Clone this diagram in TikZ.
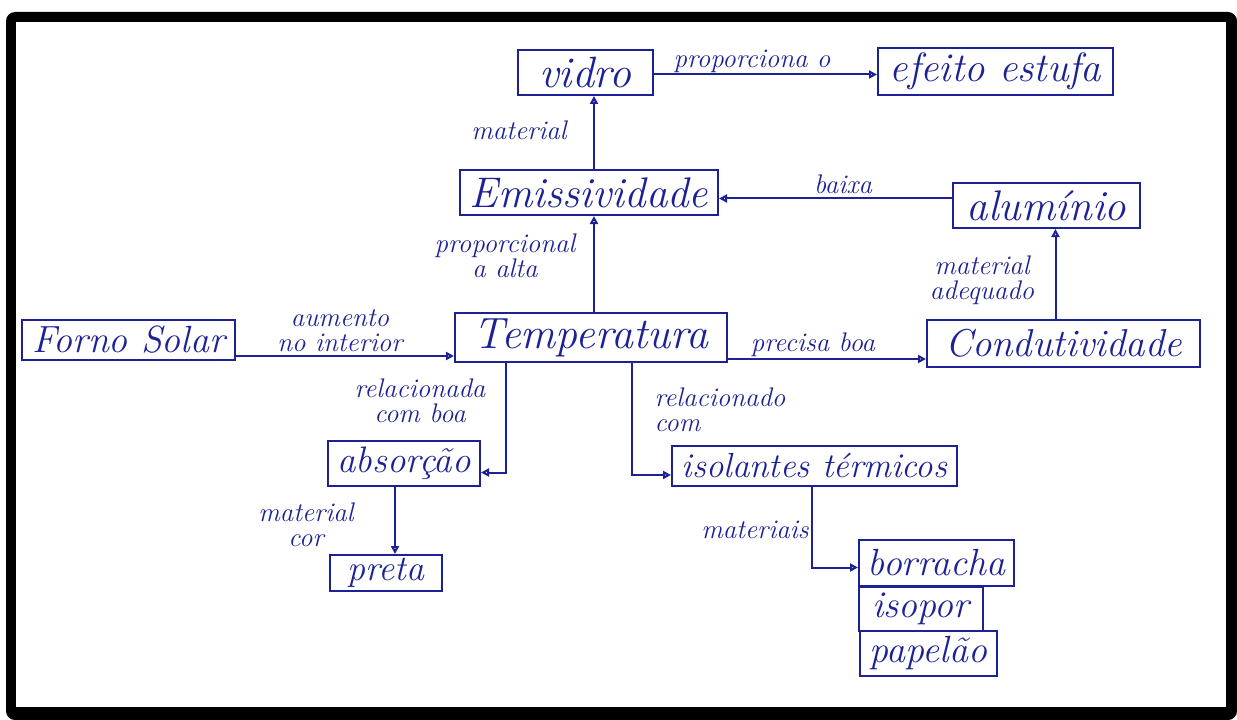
\documentclass[tikz,border=0pt]{standalone}
\usetikzlibrary{arrows.meta}
\definecolor{ink}{RGB}{28,34,150}
\begin{document}
\begin{tikzpicture}[x=1bp,y=-1bp,
  concept/.style={draw=ink, line width=2bp, text=ink, inner sep=0pt},
  box/.style 2 args={minimum width=#1, minimum height=#2},
  fs/.style={font=\itshape\fontsize{#1}{#1}\selectfont},
  lbl/.style={text=ink, font=\itshape\fontsize{27}{25}\selectfont, align=center, inner sep=0pt},
  link/.style={draw=ink, line width=2bp, -{Triangle[open,length=8bp,width=8bp]}}]

\useasboundingbox (0,0) rectangle (1237,720);
% black card frame
\fill[black, rounded corners=9bp] (6,12) rectangle (1237,720);
\fill[white] (16,22) rectangle (1226,707);

% concepts
\node[concept, box={135bp}{45bp}, fs=44] (vidro)  at (585.5,72.5) {vidro};
\node[concept, box={235bp}{47bp}, fs=41] (efeito) at (995.5,71.5) {efeito estufa};
\node[concept, box={258bp}{45bp}, fs=43] (emis)   at (589,192.5)  {Emissividade};
\node[concept, box={187bp}{45bp}, fs=43] (alum)   at (1046.5,205.5) {alumínio};
\node[concept, box={272bp}{49bp}, fs=44] (temp)   at (591,337.5)  {Temperatura};
\node[concept, box={213bp}{40bp}, fs=38] (forno)  at (128.5,340)  {Forno Solar};
\node[concept, box={273bp}{47bp}, fs=39] (cond)   at (1063.5,343.5) {Condutividade};
\node[concept, box={152bp}{45bp}, fs=37] (abs)    at (404,463.5)  {absorção};
\node[concept, box={112bp}{36bp}, fs=36] (preta)  at (386,573)    {preta};
\node[concept, box={285bp}{40bp}, fs=35] (iso)    at (814.5,466)  {isolantes térmicos};
\node[concept, box={155bp}{46bp}, fs=38] (borr)   at (936.5,562.5) {borracha};
\node[concept, box={124bp}{44bp}, fs=38] (isopor) at (921,608.5)  {isopor};
\node[concept, box={137bp}{45bp}, fs=38] (papel)  at (928.5,653.5) {papelão};

% link phrases
\node[lbl] (l1)  at (752,61)   {proporciona o};
\node[lbl] (l2)  at (519,130)  {material};
\node[lbl] (l3)  at (843,184)  {baixa};
\node[lbl] (l4)  at (505,256)  {proporcional\\a alta};
\node[lbl] (l5)  at (340,331)  {aumento\\no interior};
\node[lbl] (l6)  at (813,345)  {precisa boa};
\node[lbl] (l7)  at (982,280)  {material\\adequado};
\node[lbl] (l8)  at (420,401)  {relacionada\\com boa};
\node[lbl, align=left] (l9) at (720,410) {relacionado\\com};
\node[lbl] (l10) at (306,525)  {material\\cor};
\node[lbl] (l11) at (755,530)  {materiais};

% connectors
\coordinate (vOut) at ([yshift=-2bp]vidro.east);
\draw[link] (vOut) -- (vOut -| efeito.west);

\coordinate (eUp) at ([xshift=5bp]emis.north);
\draw[link] (eUp) -- (eUp |- vidro.south);

\coordinate (tUp) at ([xshift=3bp]temp.north);
\draw[link] (tUp) -- (tUp |- emis.south);

\coordinate (aOut) at ([yshift=7bp]alum.west);
\draw[link] (aOut) -- (aOut -| emis.east);

\coordinate (cUp) at ([xshift=-8bp]cond.north);
\draw[link] (cUp) -- (cUp |- alum.south);

\coordinate (fOut) at ([yshift=5bp]forno.south east);
\draw[link] (fOut) -- (fOut -| temp.west);

\coordinate (tOut) at ([yshift=4bp]temp.south east);
\draw[link] (tOut) -- (tOut -| cond.west);

\coordinate (tA) at ([xshift=-85bp]temp.south);
\coordinate (aIn) at ([yshift=-9bp]abs.east);
\draw[link] (tA) |- (aIn);

\coordinate (tI) at ([xshift=41bp]temp.south);
\coordinate (iIn) at ([yshift=-9bp]iso.west);
\draw[link] (tI) |- (iIn);

\coordinate (aDown) at ([xshift=-9bp]abs.south);
\draw[link] (aDown) -- (aDown |- preta.north);

\coordinate (iDown) at ([xshift=-3bp]iso.south);
\coordinate (bIn) at ([yshift=-5bp]borr.west);
\draw[link] (iDown) |- (bIn);
\end{tikzpicture}
\end{document}
